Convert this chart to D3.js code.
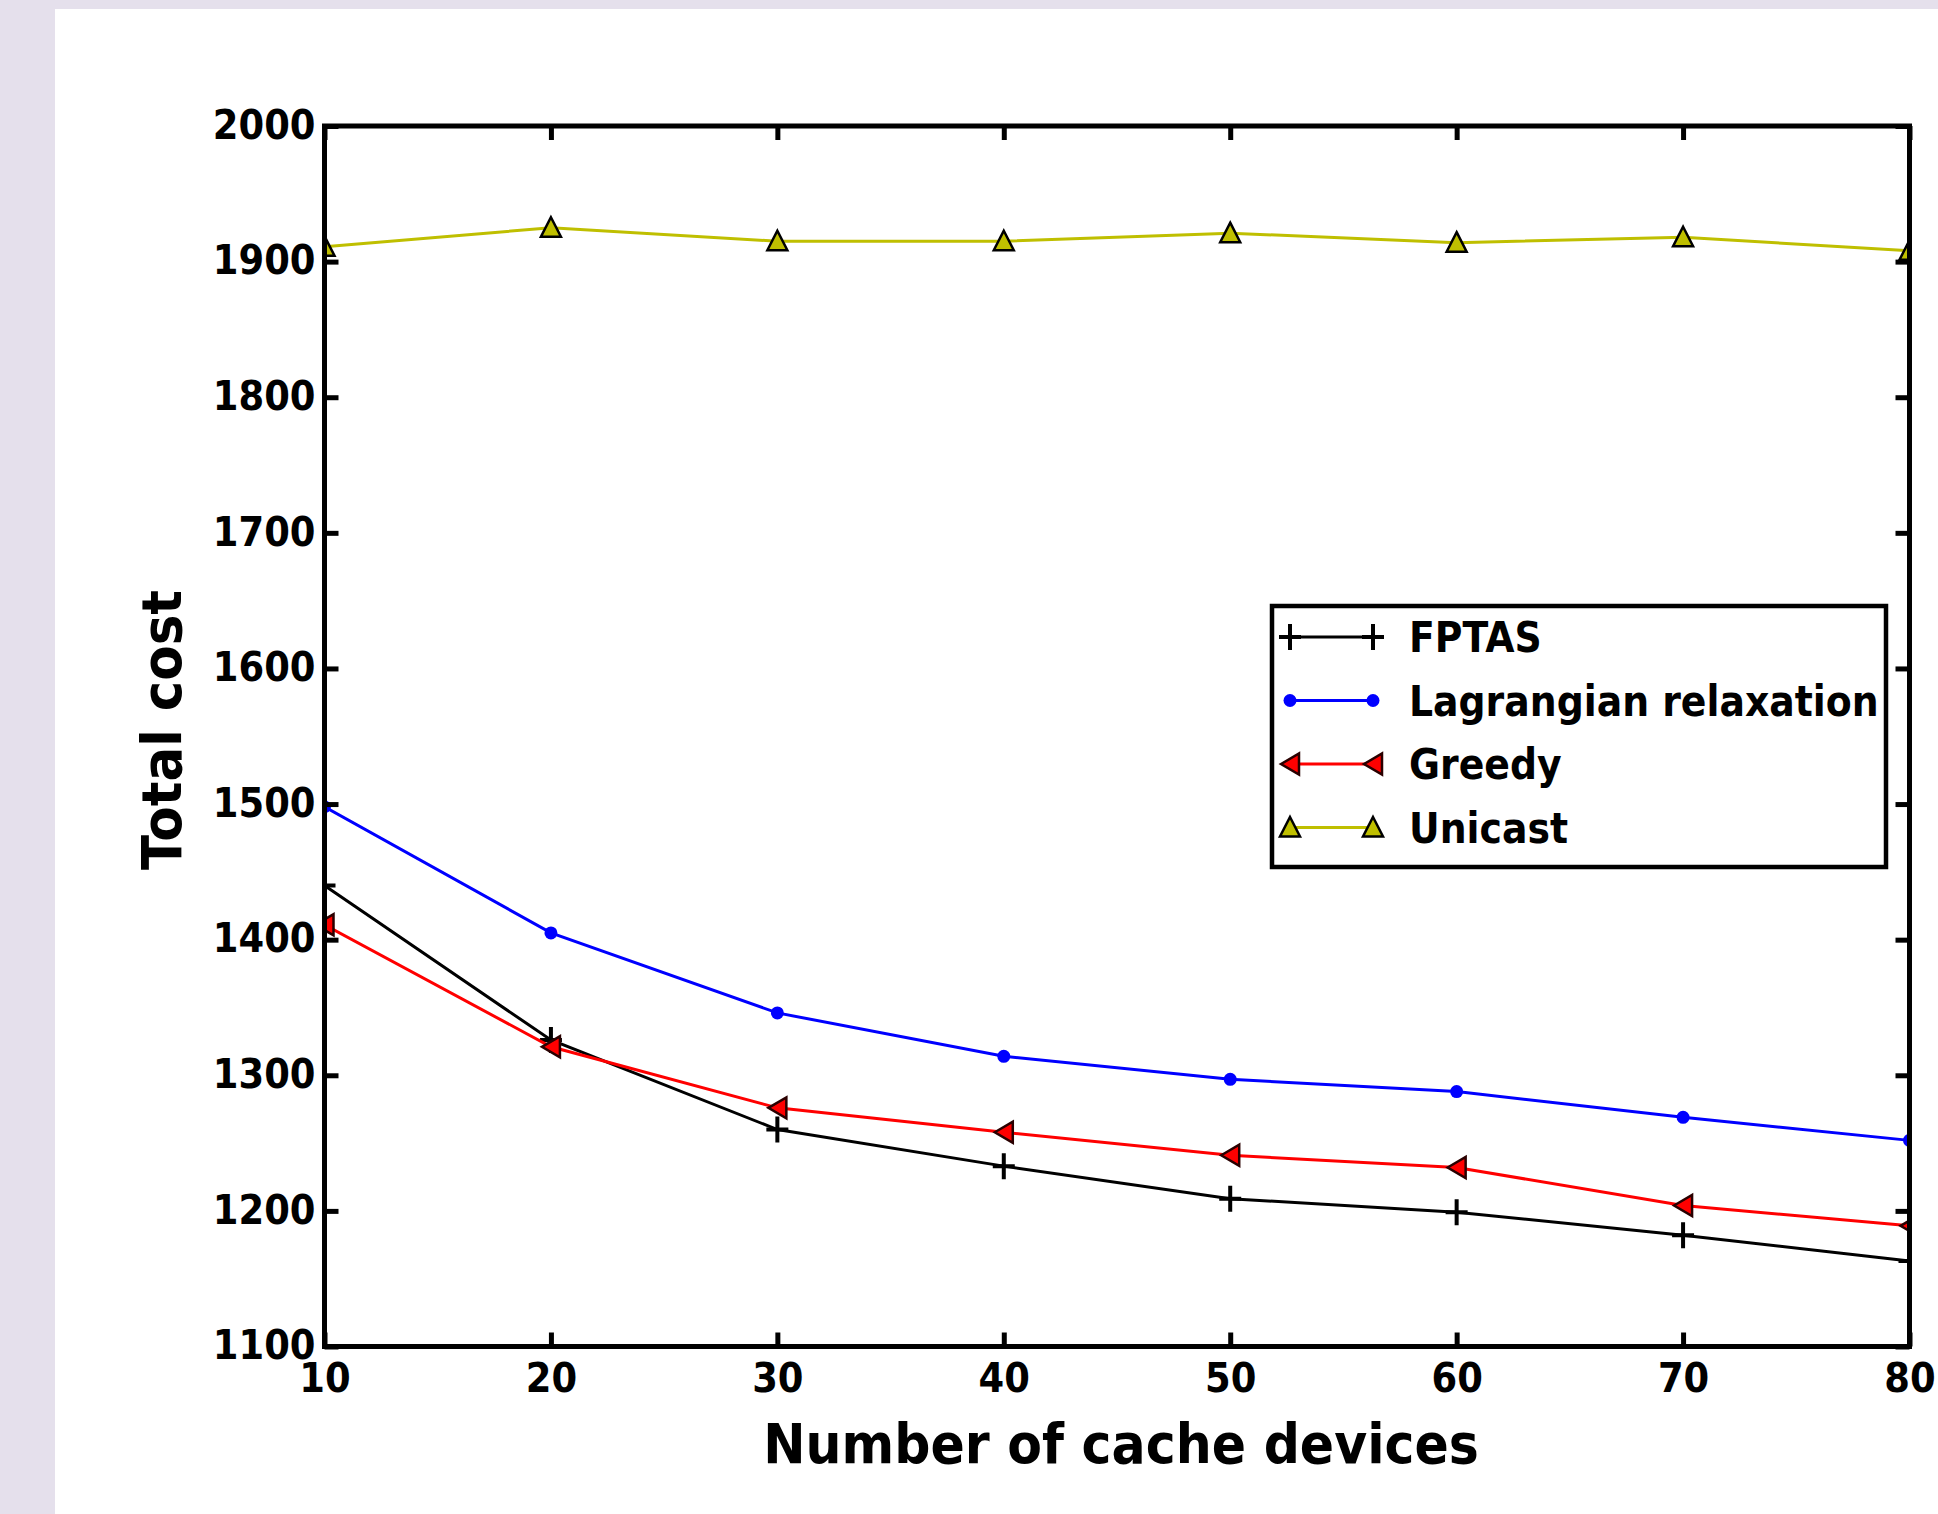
<!DOCTYPE html>
<html>
<head>
<meta charset="utf-8">
<script src="https://cdn.jsdelivr.net/npm/d3@7"></script>
<style>
  html, body { margin: 0; padding: 0; background: #e5e0ec; }
  svg { display: block; }
  text { font-family: "DejaVu Sans", sans-serif; font-weight: bold; fill: #000; }
</style>
</head>
<body>
<svg id="chart" width="1938" height="1514"></svg>
<script>
// chart values
const devices = [10, 20, 30, 40, 50, 60, 70, 80];
const fptas = [1440, 1326, 1260, 1233, 1209, 1199, 1182, 1163];
const lagrangian = [1498, 1405, 1346, 1314, 1297, 1288, 1269, 1252];
const greedy = [1411, 1321, 1276, 1258, 1241, 1232, 1204, 1189];
const unicast = [1911, 1925, 1915, 1915, 1921, 1914, 1918, 1908];
const xTicks = [10, 20, 30, 40, 50, 60, 70, 80];
const yTicks = [1100, 1200, 1300, 1400, 1500, 1600, 1700, 1800, 1900, 2000];
const seriesNames = ['FPTAS', 'Lagrangian relaxation', 'Greedy', 'Unicast'];

const series = [
    {name: seriesNames[0], values: fptas, color: '#000000', marker: 'plus'},
    {name: seriesNames[1], values: lagrangian, color: '#0000ff', marker: 'dot'},
    {name: seriesNames[2], values: greedy, color: '#ff0000', marker: 'left'},
    {name: seriesNames[3], values: unicast, color: '#bfbf00', marker: 'up'}
]

const svg = d3.select('#chart')
const squeeze = 0.9   // text in the picture is a bit narrower than DejaVu Bold

// white figure area on lavender page
svg.append('rect').attr('x', 55).attr('y', 9).attr('width', 1938 - 55).attr('height', 1514 - 9).attr('fill', '#ffffff')

const plotLeft = 324.5, plotRight = 1909.5, plotTop = 126, plotBottom = 1346.5

const x = d3.scaleLinear().domain([10, 80]).range([plotLeft, plotRight])
const y = d3.scaleLinear().domain([1100, 2000]).range([plotBottom, plotTop])

svg.append('clipPath').attr('id', 'plotclip')
    .append('rect').attr('x', plotLeft).attr('y', plotTop).attr('width', plotRight - plotLeft).attr('height', plotBottom - plotTop)

// draws one marker at 0,0
function drawMarker(g, type, color) {
    if (type == 'plus') {
        g.append('path').attr('d', 'M-11,0H11M0,-13V13').attr('stroke', '#000').attr('stroke-width', 4).attr('fill', 'none')
    } else if (type == 'dot') {
        g.append('circle').attr('r', 6.5).attr('fill', color)
    } else if (type == 'left') {
        g.append('path').attr('d', 'M-9,0L9,-10.5L9,10.5Z').attr('fill', color).attr('stroke', '#2a0000').attr('stroke-width', 2.5)
    } else if (type == 'up') {
        g.append('path').attr('d', 'M0,-10.5L10,9L-10,9Z').attr('fill', color).attr('stroke', '#000').attr('stroke-width', 2.5)
    }
}

const plot = svg.append('g').attr('clip-path', 'url(#plotclip)')

const line = d3.line().x((d, i) => x(devices[i])).y(d => y(d))

series.forEach(s => {
    plot.append('path')
        .datum(s.values)
        .attr('d', line)
        .attr('fill', 'none')
        .attr('stroke', s.color)
        .attr('stroke-width', 3)

    plot.selectAll(null)
        .data(s.values)
        .join('g')
        .attr('transform', (d, i) => `translate(${x(devices[i])},${y(d)})`)
        .each(function() { drawMarker(d3.select(this), s.marker, s.color) })
})

// axes, ticks pointing inward on all four sides
function squeezeLabels(g) {
    g.selectAll('text').each(function() {
        const t = d3.select(this)
        const tx = +t.attr('x') || 0
        const ty = +t.attr('y') || 0
        t.attr('x', 0).attr('y', 0)
            .attr('transform', `translate(${tx},${ty}) scale(${squeeze},1)`)
    })
}

const tickStyle = g => {
    g.select('.domain').remove()
    g.selectAll('.tick line').attr('stroke', '#000').attr('stroke-width', 5)
    g.selectAll('text').style('font-size', '41px').style('font-family', '"DejaVu Sans", sans-serif').style('font-weight', 'bold')
}

svg.append('g').attr('transform', `translate(${plotLeft},0)`)
    .call(d3.axisLeft(y).tickValues(yTicks).tickSizeInner(-14).tickSizeOuter(0).tickPadding(9).tickFormat(d3.format('d')))
    .call(tickStyle)
    .call(g => g.selectAll('text').attr('dy', '0.3em'))
    .call(squeezeLabels)

svg.append('g').attr('transform', `translate(0,${plotBottom})`)
    .call(d3.axisBottom(x).tickValues(xTicks).tickSizeInner(-14).tickSizeOuter(0).tickPadding(16).tickFormat(d3.format('d')))
    .call(tickStyle)
    .call(squeezeLabels)

svg.append('g').attr('transform', `translate(${plotRight},0)`)
    .call(d3.axisRight(y).tickValues(yTicks).tickSizeInner(-14).tickSizeOuter(0).tickFormat(''))
    .call(tickStyle)

svg.append('g').attr('transform', `translate(0,${plotTop})`)
    .call(d3.axisTop(x).tickValues(xTicks).tickSizeInner(-14).tickSizeOuter(0).tickFormat(''))
    .call(tickStyle)

// frame
svg.append('rect')
    .attr('x', plotLeft).attr('y', plotTop).attr('width', plotRight - plotLeft).attr('height', plotBottom - plotTop)
    .attr('fill', 'none').attr('stroke', '#000').attr('stroke-width', 5)

// axis titles
svg.append('text')
    .attr('transform', `translate(${(plotLeft + plotRight) / 2 + 4},1463) scale(${squeeze + 0.02},1)`)
    .attr('text-anchor', 'middle')
    .style('font-size', '55px')
    .text('Number of cache devices')

svg.append('text')
    .attr('transform', `translate(181,730) rotate(-90) scale(${squeeze + 0.02},1)`)
    .attr('text-anchor', 'middle')
    .style('font-size', '56px')
    .text('Total cost')

// legend
const legend = svg.append('g')
legend.append('rect')
    .attr('x', 1272).attr('y', 606).attr('width', 1886 - 1272).attr('height', 867 - 606)
    .attr('fill', '#fff').attr('stroke', '#000').attr('stroke-width', 4.5)

series.forEach((s, i) => {
    const cy = 637 + i * 63.5
    const row = legend.append('g')
    row.append('line')
        .attr('x1', 1290).attr('x2', 1373).attr('y1', cy).attr('y2', cy)
        .attr('stroke', s.color).attr('stroke-width', 3)
    ;[1290, 1373].forEach(mx => {
        drawMarker(row.append('g').attr('transform', `translate(${mx},${cy})`), s.marker, s.color)
    })
    row.append('text')
        .attr('transform', `translate(1409,${cy + 15}) scale(${squeeze},1)`)
        .style('font-size', '42px')
        .text(s.name)
})
</script>
</body>
</html>
